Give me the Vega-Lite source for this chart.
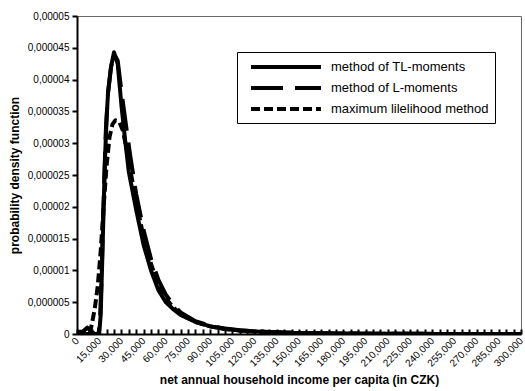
{
  "$schema": "https://vega.github.io/schema/vega-lite/v6.json",
  "width": 444,
  "height": 318,
  "autosize": "none",
  "padding": {"left": 77, "top": 16, "right": 4, "bottom": 57},
  "background": "white",
  "config": {
    "view": {"stroke": "#666666", "strokeWidth": 1},
    "font": "Liberation Sans",
    "axis": {"labelColor": "black", "titleColor": "black", "domainColor": "black", "tickColor": "black", "grid": false}
  },
  "data": {
    "values": [
      {"series": "method of TL-moments", "x": 0, "y": 0},
      {"series": "method of TL-moments", "x": 15000, "y": 0},
      {"series": "method of TL-moments", "x": 16000, "y": 0.3e-5},
      {"series": "method of TL-moments", "x": 17000, "y": 1.1e-5},
      {"series": "method of TL-moments", "x": 18000, "y": 2.0e-5},
      {"series": "method of TL-moments", "x": 19000, "y": 2.8e-5},
      {"series": "method of TL-moments", "x": 20000, "y": 3.4e-5},
      {"series": "method of TL-moments", "x": 21000, "y": 3.8e-5},
      {"series": "method of TL-moments", "x": 23000, "y": 4.2e-5},
      {"series": "method of TL-moments", "x": 25000, "y": 4.43e-5},
      {"series": "method of TL-moments", "x": 27500, "y": 4.25e-5},
      {"series": "method of TL-moments", "x": 30000, "y": 3.6e-5},
      {"series": "method of TL-moments", "x": 32500, "y": 3.05e-5},
      {"series": "method of TL-moments", "x": 35000, "y": 2.55e-5},
      {"series": "method of TL-moments", "x": 40000, "y": 1.95e-5},
      {"series": "method of TL-moments", "x": 45000, "y": 1.40e-5},
      {"series": "method of TL-moments", "x": 50000, "y": 1.0e-5},
      {"series": "method of TL-moments", "x": 55000, "y": 0.69e-5},
      {"series": "method of TL-moments", "x": 60000, "y": 0.5e-5},
      {"series": "method of TL-moments", "x": 65000, "y": 0.39e-5},
      {"series": "method of TL-moments", "x": 70000, "y": 0.30e-5},
      {"series": "method of TL-moments", "x": 80000, "y": 0.19e-5},
      {"series": "method of TL-moments", "x": 90000, "y": 0.12e-5},
      {"series": "method of TL-moments", "x": 100000, "y": 0.08e-5},
      {"series": "method of TL-moments", "x": 110000, "y": 0.055e-5},
      {"series": "method of TL-moments", "x": 120000, "y": 0.04e-5},
      {"series": "method of TL-moments", "x": 135000, "y": 0.025e-5},
      {"series": "method of TL-moments", "x": 150000, "y": 0.015e-5},
      {"series": "method of TL-moments", "x": 180000, "y": 0.007e-5},
      {"series": "method of TL-moments", "x": 210000, "y": 0.004e-5},
      {"series": "method of TL-moments", "x": 240000, "y": 0.002e-5},
      {"series": "method of TL-moments", "x": 270000, "y": 0.001e-5},
      {"series": "method of TL-moments", "x": 300000, "y": 0.0005e-5},

      {"series": "method of L-moments", "x": 0, "y": 0.03e-5},
      {"series": "method of L-moments", "x": 4000, "y": 0.04e-5},
      {"series": "method of L-moments", "x": 7000, "y": 0.1e-5},
      {"series": "method of L-moments", "x": 9500, "y": 0.04e-5},
      {"series": "method of L-moments", "x": 12000, "y": 0},
      {"series": "method of L-moments", "x": 14500, "y": 0},
      {"series": "method of L-moments", "x": 15500, "y": 0.2e-5},
      {"series": "method of L-moments", "x": 16500, "y": 0.8e-5},
      {"series": "method of L-moments", "x": 17500, "y": 1.7e-5},
      {"series": "method of L-moments", "x": 18500, "y": 2.5e-5},
      {"series": "method of L-moments", "x": 19500, "y": 3.2e-5},
      {"series": "method of L-moments", "x": 21000, "y": 3.8e-5},
      {"series": "method of L-moments", "x": 23000, "y": 4.2e-5},
      {"series": "method of L-moments", "x": 25000, "y": 4.4e-5},
      {"series": "method of L-moments", "x": 27500, "y": 4.3e-5},
      {"series": "method of L-moments", "x": 30000, "y": 3.82e-5},
      {"series": "method of L-moments", "x": 33000, "y": 3.3e-5},
      {"series": "method of L-moments", "x": 36000, "y": 2.8e-5},
      {"series": "method of L-moments", "x": 40000, "y": 2.2e-5},
      {"series": "method of L-moments", "x": 45000, "y": 1.63e-5},
      {"series": "method of L-moments", "x": 50000, "y": 1.18e-5},
      {"series": "method of L-moments", "x": 55000, "y": 0.85e-5},
      {"series": "method of L-moments", "x": 60000, "y": 0.62e-5},
      {"series": "method of L-moments", "x": 65000, "y": 0.46e-5},
      {"series": "method of L-moments", "x": 70000, "y": 0.34e-5},
      {"series": "method of L-moments", "x": 80000, "y": 0.2e-5},
      {"series": "method of L-moments", "x": 90000, "y": 0.13e-5},
      {"series": "method of L-moments", "x": 100000, "y": 0.085e-5},
      {"series": "method of L-moments", "x": 110000, "y": 0.06e-5},
      {"series": "method of L-moments", "x": 120000, "y": 0.042e-5},
      {"series": "method of L-moments", "x": 135000, "y": 0.026e-5},
      {"series": "method of L-moments", "x": 150000, "y": 0.016e-5},
      {"series": "method of L-moments", "x": 180000, "y": 0.008e-5},
      {"series": "method of L-moments", "x": 210000, "y": 0.004e-5},
      {"series": "method of L-moments", "x": 240000, "y": 0.002e-5},
      {"series": "method of L-moments", "x": 270000, "y": 0.001e-5},
      {"series": "method of L-moments", "x": 300000, "y": 0.0006e-5},

      {"series": "maximum lilelihood method", "x": 0, "y": 0},
      {"series": "maximum lilelihood method", "x": 5000, "y": 0},
      {"series": "maximum lilelihood method", "x": 8500, "y": 0},
      {"series": "maximum lilelihood method", "x": 10000, "y": 0.15e-5},
      {"series": "maximum lilelihood method", "x": 12000, "y": 0.4e-5},
      {"series": "maximum lilelihood method", "x": 14000, "y": 0.75e-5},
      {"series": "maximum lilelihood method", "x": 16000, "y": 1.3e-5},
      {"series": "maximum lilelihood method", "x": 18000, "y": 2.0e-5},
      {"series": "maximum lilelihood method", "x": 20000, "y": 2.65e-5},
      {"series": "maximum lilelihood method", "x": 22000, "y": 3.1e-5},
      {"series": "maximum lilelihood method", "x": 24000, "y": 3.3e-5},
      {"series": "maximum lilelihood method", "x": 26000, "y": 3.36e-5},
      {"series": "maximum lilelihood method", "x": 28500, "y": 3.34e-5},
      {"series": "maximum lilelihood method", "x": 31000, "y": 3.2e-5},
      {"series": "maximum lilelihood method", "x": 34000, "y": 2.85e-5},
      {"series": "maximum lilelihood method", "x": 37000, "y": 2.45e-5},
      {"series": "maximum lilelihood method", "x": 40000, "y": 2.08e-5},
      {"series": "maximum lilelihood method", "x": 45000, "y": 1.52e-5},
      {"series": "maximum lilelihood method", "x": 50000, "y": 1.1e-5},
      {"series": "maximum lilelihood method", "x": 55000, "y": 0.78e-5},
      {"series": "maximum lilelihood method", "x": 60000, "y": 0.56e-5},
      {"series": "maximum lilelihood method", "x": 65000, "y": 0.42e-5},
      {"series": "maximum lilelihood method", "x": 70000, "y": 0.32e-5},
      {"series": "maximum lilelihood method", "x": 80000, "y": 0.19e-5},
      {"series": "maximum lilelihood method", "x": 90000, "y": 0.12e-5},
      {"series": "maximum lilelihood method", "x": 100000, "y": 0.08e-5},
      {"series": "maximum lilelihood method", "x": 110000, "y": 0.055e-5},
      {"series": "maximum lilelihood method", "x": 120000, "y": 0.038e-5},
      {"series": "maximum lilelihood method", "x": 135000, "y": 0.023e-5},
      {"series": "maximum lilelihood method", "x": 150000, "y": 0.014e-5},
      {"series": "maximum lilelihood method", "x": 180000, "y": 0.006e-5},
      {"series": "maximum lilelihood method", "x": 210000, "y": 0.003e-5},
      {"series": "maximum lilelihood method", "x": 240000, "y": 0.0015e-5},
      {"series": "maximum lilelihood method", "x": 270000, "y": 0.0008e-5},
      {"series": "maximum lilelihood method", "x": 300000, "y": 0.0004e-5}
    ]
  },
  "mark": {"type": "line", "color": "black", "strokeWidth": 4, "strokeCap": "butt", "strokeJoin": "round", "clip": true},
  "encoding": {
    "x": {
      "field": "x", "type": "quantitative",
      "scale": {"domain": [0, 300000], "nice": false, "zero": true},
      "axis": {
        "title": "net annual household income per capita (in CZK)",
        "titleFont": "Liberation Sans", "titleFontSize": 12, "titleFontWeight": "bold", "titlePadding": 6,
        "values": [0,5000,10000,15000,20000,25000,30000,35000,40000,45000,50000,55000,60000,65000,70000,75000,80000,85000,90000,95000,100000,105000,110000,115000,120000,125000,130000,135000,140000,145000,150000,155000,160000,165000,170000,175000,180000,185000,190000,195000,200000,205000,210000,215000,220000,225000,230000,235000,240000,245000,250000,255000,260000,265000,270000,275000,280000,285000,290000,295000,300000],
        "labelExpr": "datum.value % 15000 == 0 ? format(datum.value, ',') : ''",
        "labelAngle": -45, "labelAlign": "right", "labelBaseline": "middle",
        "labelFont": "Liberation Sans", "labelFontSize": 10, "labelOverlap": false, "labelPadding": 10,
        "labelBound": false, "labelFlush": false,
        "domainWidth": 2, "tickWidth": 2, "tickSize": -5
      }
    },
    "y": {
      "field": "y", "type": "quantitative",
      "scale": {"domain": [0, 0.00005], "nice": false},
      "axis": {
        "title": "probability density function",
        "titleFont": "Liberation Sans", "titleFontSize": 12, "titleFontWeight": "bold", "titlePadding": 6,
        "values": [0, 0.000005, 0.00001, 0.000015, 0.00002, 0.000025, 0.00003, 0.000035, 0.00004, 0.000045, 0.00005],
        "labelExpr": "replace(format(datum.value, '.6~f'), '.', ',')",
        "labelFont": "Liberation Sans", "labelFontSize": 10, "labelPadding": 3,
        "domainWidth": 2, "tickWidth": 2, "tickSize": 5
      }
    },
    "strokeDash": {
      "field": "series", "type": "nominal",
      "scale": {
        "domain": ["method of TL-moments", "method of L-moments", "maximum lilelihood method"],
        "range": [[1, 0], [32, 12], [9, 4]]
      },
      "legend": {
        "title": null, "orient": "none", "legendX": 160, "legendY": 36,
        "symbolType": "M-5,0H5", "symbolSize": 196, "symbolStrokeWidth": 4, "symbolStrokeColor": "black",
        "symbolOffset": 34,
        "labelFont": "Liberation Sans", "labelFontSize": 13, "labelColor": "black", "labelOffset": 36,
        "rowPadding": 4,
        "strokeColor": "black", "fillColor": "white", "padding": 6
      }
    }
  }
}
